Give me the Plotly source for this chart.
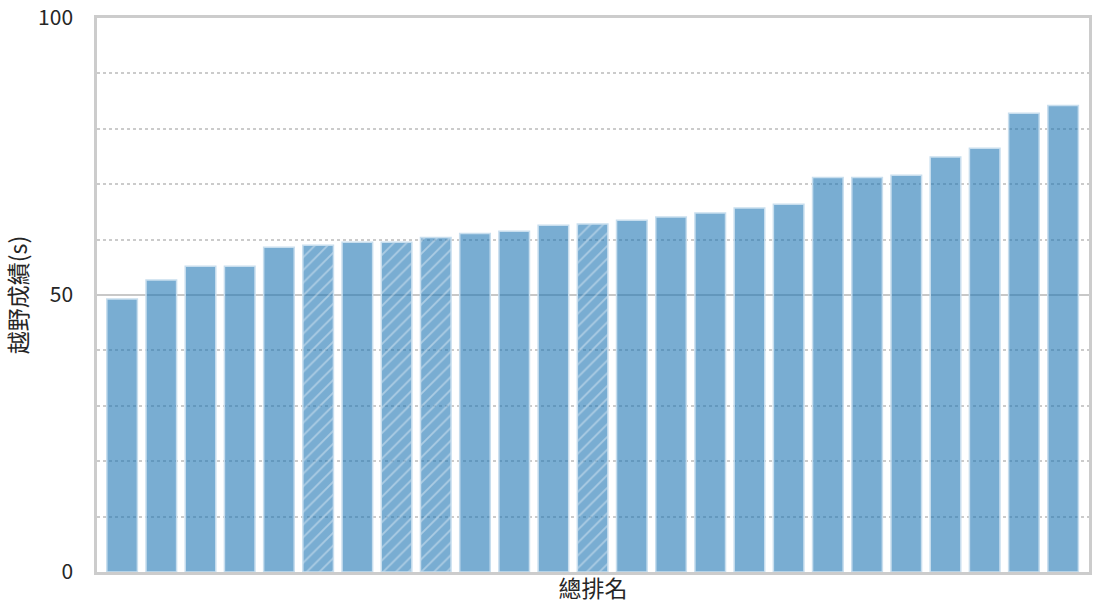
import plotly.graph_objects as go

ranks = list(range(1, 26))
scores = [49.3, 52.7, 55.2, 55.2, 58.6, 59.0, 59.5, 59.5, 60.4, 61.1,
          61.5, 62.6, 62.8, 63.5, 64.1, 64.8, 65.7, 66.4, 71.2, 71.2,
          71.6, 74.9, 76.5, 82.8, 84.2]
hatched = [6, 8, 9, 13]

shapes = ['/' if r in hatched else '' for r in ranks]

fig = go.Figure()
fig.add_trace(go.Bar(
    x=[r - 1 for r in ranks],
    y=scores,
    width=0.78,
    marker=dict(
        color='rgba(31,119,180,0.6)',
        line=dict(color='rgb(200,222,238)', width=1.5),
        pattern=dict(shape=shapes, fgcolor='rgba(255,255,255,0.75)',
                     size=9, solidity=0.2),
    ),
    showlegend=False,
))

font_family = 'Noto Sans CJK TC, Noto Sans, sans-serif'

fig.update_layout(
    width=1099, height=614,
    margin=dict(l=97, r=10, t=18, b=42),
    plot_bgcolor='white',
    paper_bgcolor='white',
    font=dict(family=font_family, size=23, color='#262626'),
)
fig.update_xaxes(
    range=[-0.64, 24.66],
    automargin=False,
    showticklabels=False,
    showgrid=False,
    zeroline=False,
    ticks='',
    showline=True, linecolor='#cccccc', linewidth=2.5, mirror=True,
    title=dict(text='總排名', standoff=8, font=dict(size=23)),
)
fig.update_yaxes(
    range=[0, 100],
    automargin=False,
    tickvals=[0, 50, 100],
    ticks='',
    ticklabelstandoff=17,
    ticklabeloverflow='allow',
    tickfont=dict(size=21),
    showgrid=True, gridcolor='#c8c8c8', gridwidth=1.5,
    zeroline=False,
    minor=dict(dtick=10, tick0=0, showgrid=True, gridcolor='#cbcbcb',
               griddash='dot', gridwidth=1.5),
    showline=True, linecolor='#cccccc', linewidth=2.5, mirror=True,
    title=dict(text='越野成績(s)', standoff=10, font=dict(size=23)),
)

# the page body has a default margin; drop it so the figure sits at 0,0
fig.write_html('out.html', config={'displayModeBar': False},
               post_script="document.body.style.margin='0';")
